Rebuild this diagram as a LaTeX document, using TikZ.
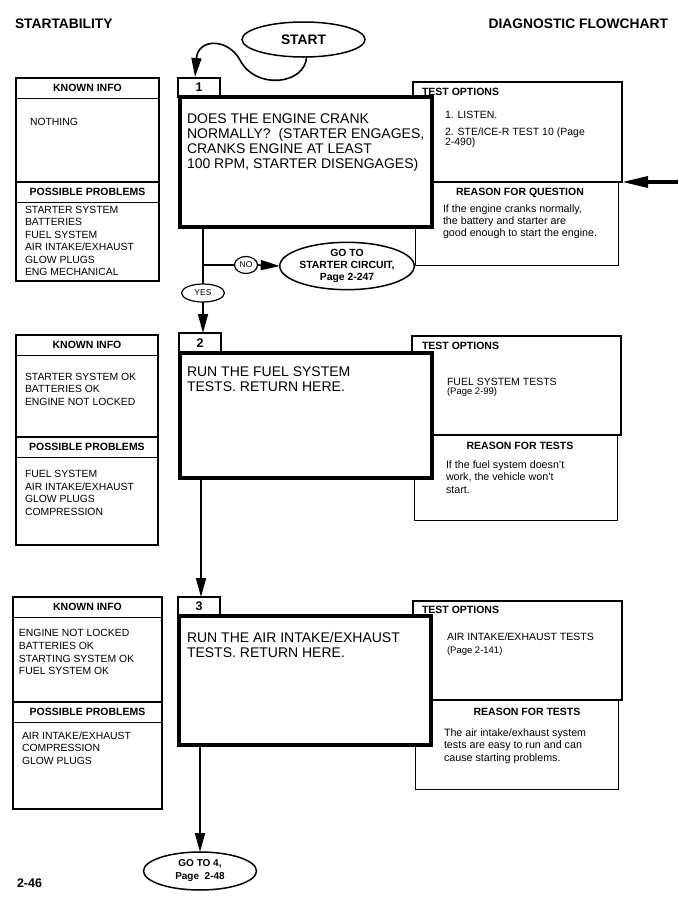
\documentclass[tikz,border=0pt]{standalone}
\usepackage{fontspec}
\setmainfont{Liberation Sans}
\usetikzlibrary{arrows.meta, shapes.geometric}

\begin{document}
\begin{tikzpicture}[x=1pt, y=-1pt,
        every node/.style={inner sep=0pt, outer sep=0pt},
        qbox/.style={draw, fill=white, line width=3.6pt, minimum width=252pt, anchor=north west},
        numbox/.style={draw, fill=white, line width=1.2pt, minimum width=42pt, minimum height=19pt, anchor=north west, font=\fontsize{12.5}{12}\selectfont\bfseries},
        optbox/.style={draw, line width=1.6pt, minimum width=209pt, minimum height=100pt, anchor=north west},
        whybox/.style={draw, line width=0.9pt, minimum width=203pt, anchor=north west},
        hdtext/.style={font=\fontsize{10.5}{12}\selectfont\bfseries},
        bigtext/.style={anchor=north west, align=left, font=\fontsize{14}{15.2}\selectfont},
        listtext/.style={anchor=north west, align=left, font=\fontsize{10.4}{12.5}\selectfont},
        whytext/.style={anchor=north west, align=left, font=\fontsize{10.7}{12.3}\selectfont},
        opttext/.style={anchor=west, font=\fontsize{10.5}{12}\selectfont},
        pagetext/.style={anchor=west, font=\fontsize{9.5}{11}\selectfont},
        oval/.style={draw, fill=white, ellipse, line width=1.5pt, align=center, font=\fontsize{10.4}{12}\selectfont\bfseries},
        tag/.style={draw, fill=white, ellipse, line width=1.2pt, font=\fontsize{8.5}{9}\selectfont},
        flow/.style={line width=1.6pt},
        arr/.style={line width=1.6pt, -{Triangle[length=19pt, width=10pt]}}]
    \useasboundingbox (0,0) rectangle (678,900);
    \node[anchor=west, font=\fontsize{13.8}{14}\selectfont\bfseries] (title) at (15,24) {STARTABILITY};
    \node[anchor=east, font=\fontsize{13.8}{14}\selectfont\bfseries] (kind) at (668,24) {DIAGNOSTIC FLOWCHART};
    \node[tag, line width=1.5pt, minimum width=123pt, minimum height=35pt, font=\fontsize{13.8}{14}\selectfont\bfseries] (start) at (303.5,39.5) {START};

    \foreach \l/\r/\t/\m/\b in {16/159/78/182/281, 16/158/335/437/545, 13/162/597/702/809} {
        \draw[line width=1.2pt] (\l,\t) rectangle (\r,\b);
        \draw[line width=1pt] (\l,\t+20) -- (\r,\t+20);
        \draw[line width=2pt] (\l,\m) -- (\r,\m);
        \draw[line width=1pt] (\l,\m+20) -- (\r,\m+20);
        \node[hdtext] at ({(\l+\r)/2},\t+10) {KNOWN INFO};
        \node[hdtext] at ({(\l+\r)/2},\m+10) {POSSIBLE PROBLEMS};
    }

    \node[optbox] (opt1) at (413,82) {};
    \node[whybox, minimum height=83pt] (why1) at (415,182) {};
    \node[optbox, minimum height=99pt] (opt2) at (412,336) {};
    \node[whybox, minimum height=85pt] (why2) at (414,435) {};
    \node[optbox, minimum height=99pt] (opt3) at (413,601) {};
    \node[whybox, minimum height=89pt] (why3) at (415,700) {};

    \node[numbox] (n1) at (178,78) {1};
    \node[numbox, minimum height=20pt] (n2) at (179,333) {2};
    \node[numbox] (n3) at (178,597) {3};
    \node[qbox, minimum height=130pt] (q1) at (180,97) {};
    \node[qbox, minimum height=125pt] (q2) at (180,353) {};
    \node[qbox, minimum height=129pt] (q3) at (179,616) {};

    \node[bigtext] at (187,113.5) {DOES THE ENGINE CRANK\\NORMALLY?\ \ (STARTER ENGAGES,\\CRANKS ENGINE AT LEAST\\100 RPM, STARTER DISENGAGES)};
    \node[bigtext] at (187,367) {RUN THE FUEL SYSTEM\\TESTS. RETURN HERE.};
    \node[bigtext, font=\fontsize{14}{15.8}\selectfont] at (187,632) {RUN THE AIR INTAKE/EXHAUST\\TESTS. RETURN HERE.};

    \node[listtext] at (30,118) {NOTHING};
    \node[listtext, font=\fontsize{10.4}{12.4}\selectfont] at (25,206.3) {STARTER SYSTEM\\BATTERIES\\FUEL SYSTEM\\AIR INTAKE/EXHAUST\\GLOW PLUGS\\ENG MECHANICAL};
    \node[listtext] at (25,373) {STARTER SYSTEM OK\\BATTERIES OK\\ENGINE NOT LOCKED};
    \node[listtext] at (25,470.5) {FUEL SYSTEM\\AIR INTAKE/EXHAUST\\GLOW PLUGS\\COMPRESSION};
    \node[listtext, font=\fontsize{10.4}{12.7}\selectfont] at (19,629.5) {ENGINE NOT LOCKED\\BATTERIES OK\\STARTING SYSTEM OK\\FUEL SYSTEM OK};
    \node[listtext] at (22,731.5) {AIR INTAKE/EXHAUST\\COMPRESSION\\GLOW PLUGS};

    \node[hdtext, anchor=west] at (422,92) {TEST OPTIONS};
    \node[hdtext, anchor=west] at (422,346) {TEST OPTIONS};
    \node[hdtext, anchor=west] at (422,610) {TEST OPTIONS};
    \node[opttext] at (445,115) {1. LISTEN.};
    \node[opttext] at (445,133) {2. STE/ICE-R TEST 10 (Page};
    \node[opttext] at (445,143) {2-490)};
    \node[opttext] at (447,382) {FUEL SYSTEM TESTS};
    \node[pagetext] at (447,392) {(Page 2-99)};
    \node[opttext] at (447,637) {AIR INTAKE/EXHAUST TESTS};
    \node[pagetext] at (447,651) {(Page 2-141)};

    \node[hdtext] at (520,193) {REASON FOR QUESTION};
    \node[hdtext] at (520,446) {REASON FOR TESTS};
    \node[hdtext] at (527,712) {REASON FOR TESTS};
    \node[whytext] at (443,204.5) {If the engine cranks normally,\\the battery and starter are\\good enough to start the engine.};
    \node[whytext, font=\fontsize{10.7}{12.5}\selectfont] at (446,460.5) {If the fuel system doesn't\\work, the vehicle won't\\start.};
    \node[whytext, font=\fontsize{10.7}{12.5}\selectfont] at (444,728.5) {The air intake/exhaust system\\tests are easy to run and can\\cause starting problems.};

    \node[tag, minimum width=23pt, minimum height=17pt] (no) at (246,265) {NO};
    \node[tag, minimum width=43pt, minimum height=18pt] (yes) at (203,293) {YES};
    \node[oval, minimum width=121pt, minimum height=42pt] (goto1) at (347,266) {GO TO\\STARTER CIRCUIT,\\Page 2-247};
    \node[oval, minimum width=113pt, minimum height=38pt, font=\fontsize{10}{13}\selectfont\bfseries] (goto4) at (200,871) {GO TO 4,\\Page\ \ 2-48};
    \node[anchor=west, font=\fontsize{12.5}{13}\selectfont\bfseries] (page) at (17,883) {2-46};

    \coordinate (entry) at (678,182);
    \draw[line width=3.5pt, -{Triangle[length=26pt, width=11pt]}] (entry) -- (opt1.south east);
    \draw[arr] (start.-80) .. controls (305,85) and (255,90) .. (240,60) .. controls (228,38) and (198,38) .. (195,77);
    \draw[flow] (q1.south -| yes) -- (yes.north);
    \draw[flow] (no -| yes) -- (no.west);
    \draw[arr] (no.east) -- (goto1.west);
    \draw[arr] (yes.south) -- (yes |- n2.north);
    \draw[arr] (q2.south -| 201,0) -- (n3.north -| 201,0);
    \draw[arr] (q3.south -| goto4) -- (goto4.north);
\end{tikzpicture}
\end{document}
